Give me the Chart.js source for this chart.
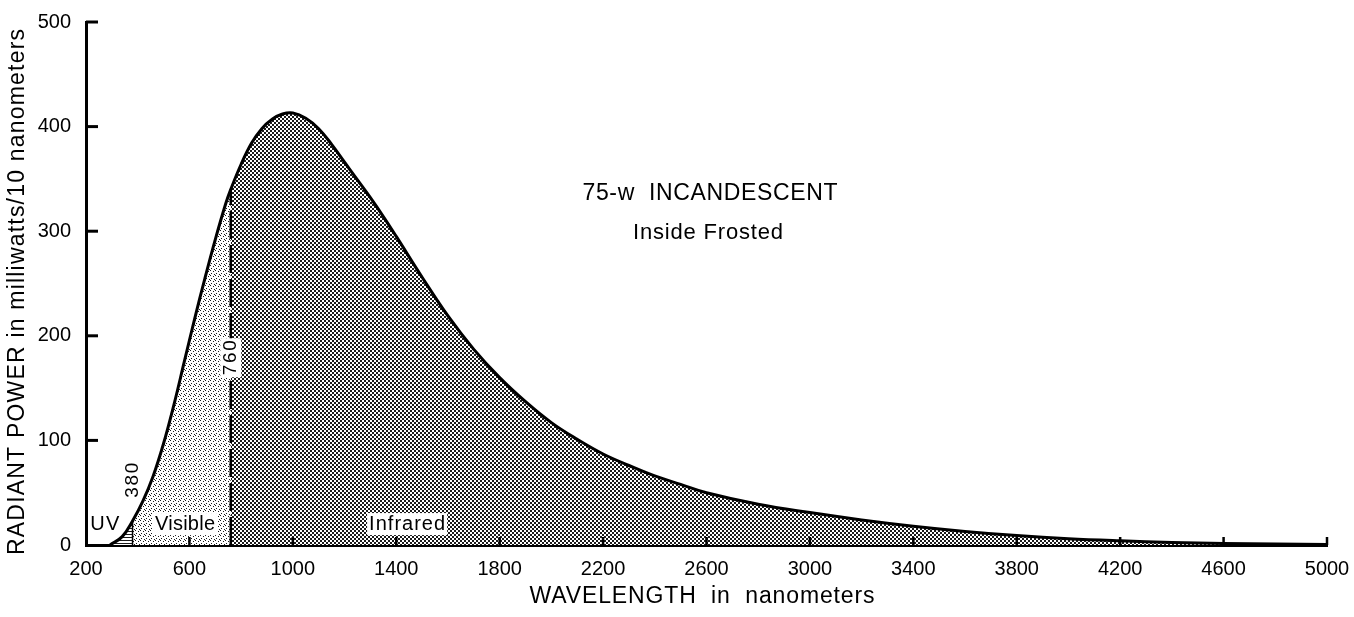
<!DOCTYPE html>
<html>
<head>
<meta charset="utf-8">
<script src="https://cdn.jsdelivr.net/npm/chart.js@4.4.1/dist/chart.umd.min.js"></script>
<style>
  html, body { margin: 0; padding: 0; background: #fff; }
  #wrap { width: 1354px; height: 617px; }
</style>
</head>
<body>
<div id="wrap"><canvas id="chart" width="1354" height="617"></canvas></div>
<script>
// wavelength (nm) and radiant power (mW / 10 nm)
const wavelengths = [293, 340, 380, 420, 460, 500, 540, 580, 620, 660, 700, 740, 760,
  800, 840, 880, 920, 960, 1000, 1050, 1100, 1150, 1200, 1250, 1300, 1350, 1400,
  1500, 1600, 1700, 1800, 1900, 2000, 2100, 2200, 2300, 2400, 2500, 2600,
  2800, 3000, 3200, 3400, 3600, 3800, 4000, 4200, 4400, 4600, 4800, 5000];
const power = [0, 8, 23, 42, 66, 97, 134, 175, 216, 255, 292, 326, 340,
  364, 384, 398, 407, 412, 413, 408, 398, 383, 366, 349, 332, 314, 295,
  256, 219, 187, 160, 137, 117, 101, 87, 76, 66, 58, 50,
  39, 31, 24, 18, 13, 9, 6, 4, 2.5, 1.5, 1, 0.5];

const xTickValues = [200, 600, 1000, 1400, 1800, 2200, 2600, 3000, 3400, 3800, 4200, 4600, 5000];
const yTickValues = [0, 100, 200, 300, 400, 500];

const UV_EDGE = 380;
const IR_EDGE = 760;

const FONT = "'Liberation Sans', Arial, sans-serif";

const points = wavelengths.map((w, i) => ({ x: w, y: power[i] }));
const between = (a, b) => points.filter(p => p.x >= a && p.x <= b);
const powerAt = w => power[wavelengths.indexOf(w)];

// fill textures
function makePattern(w, h, draw) {
  const c = document.createElement('canvas');
  c.width = w; c.height = h;
  const g = c.getContext('2d');
  g.fillStyle = '#fff';
  g.fillRect(0, 0, w, h);
  g.fillStyle = '#1a1a1a';
  draw(g);
  return g.createPattern(c, 'repeat');
}
const uvFill = makePattern(1, 3, g => g.fillRect(0, 0, 1, 1));
const visFill = makePattern(5, 5, g => {
  g.fillRect(0, 0, 1, 1); g.fillRect(3, 1, 1, 1);
  g.fillRect(1, 3, 1, 1); g.fillRect(4, 4, 1, 1);
});
const irFill = makePattern(4, 4, g => {
  g.fillRect(0, 0, 2, 2); g.fillRect(2, 2, 2, 2);
});

function fitText(ctx, text, cx, cy, size, width) {
  ctx.font = size + 'px ' + FONT;
  ctx.letterSpacing = '0px';
  const w0 = ctx.measureText(text).width;
  const ls = (width - w0) / Math.max(text.length - 1, 1);
  ctx.letterSpacing = ls + 'px';
  ctx.textAlign = 'left';
  ctx.textBaseline = 'middle';
  ctx.fillText(text, cx - width / 2, cy);
  ctx.letterSpacing = '0px';
}

function boxedText(ctx, text, cx, cy, size, width) {
  ctx.fillStyle = '#fff';
  ctx.fillRect(cx - width / 2 - 2, cy - size * 0.55, width + 4, size * 1.1);
  ctx.fillStyle = '#000';
  fitText(ctx, text, cx, cy, size, width);
}

const decor = {
  id: 'decor',
  afterDraw(chart) {
    const { ctx, chartArea: a, scales: { x, y } } = chart;
    ctx.save();
    ctx.strokeStyle = '#000';
    // inward tick marks
    ctx.lineWidth = 3;
    yTickValues.slice(1).forEach(v => {
      const py = y.getPixelForValue(v);
      ctx.beginPath(); ctx.moveTo(a.left, py); ctx.lineTo(a.left + 12, py); ctx.stroke();
    });
    ctx.lineWidth = 2.5;
    xTickValues.slice(1).forEach(v => {
      const px = x.getPixelForValue(v);
      ctx.beginPath(); ctx.moveTo(px, a.bottom); ctx.lineTo(px, a.bottom - 8); ctx.stroke();
    });

    // region labels
    ctx.fillStyle = '#000';
    fitText(ctx, 'UV', x.getPixelForValue(273), y.getPixelForValue(20), 20, 29);
    boxedText(ctx, 'Visible', x.getPixelForValue(583), y.getPixelForValue(20), 20, 60);
    boxedText(ctx, 'Infrared', x.getPixelForValue(1442), y.getPixelForValue(20), 20, 76);

    // rotated boundary labels
    [[String(UV_EDGE), UV_EDGE, 62, false], [String(IR_EDGE), IR_EDGE, 179, true]].forEach(([t, w, v, box]) => {
      ctx.save();
      ctx.translate(x.getPixelForValue(w), y.getPixelForValue(v));
      ctx.rotate(-Math.PI / 2);
      if (box) boxedText(ctx, t, 0, 0, 19, 35);
      else { ctx.fillStyle = '#000'; fitText(ctx, t, 0, 0, 19, 35); }
      ctx.restore();
    });

    // chart title
    ctx.fillStyle = '#000';
    fitText(ctx, '75-w  INCANDESCENT', 710, 194, 23, 255);
    fitText(ctx, 'Inside Frosted', 708, 233, 22, 150);

    // axis titles
    fitText(ctx, 'WAVELENGTH  in  nanometers', 702, 597, 23, 345);
    ctx.save();
    ctx.translate(18, 292);
    ctx.rotate(-Math.PI / 2);
    fitText(ctx, 'RADIANT POWER in milliwatts/10 nanometers', 0, 0, 23, 526);
    ctx.restore();
    ctx.restore();
  }
};

const areaSet = (data, fill) => ({
  data, backgroundColor: fill, borderWidth: 0, fill: 'origin',
  pointRadius: 0, tension: 0.4, order: 3
});

new Chart(document.getElementById('chart'), {
  type: 'line',
  data: {
    datasets: [
      areaSet(between(wavelengths[0], UV_EDGE), uvFill),
      areaSet(between(UV_EDGE, IR_EDGE), visFill),
      areaSet(between(IR_EDGE, 5000), irFill),
      {
        data: points, borderColor: '#000', borderWidth: 3, fill: false,
        pointRadius: 0, tension: 0.4, order: 1
      },
      {
        data: [{ x: UV_EDGE, y: 0 }, { x: UV_EDGE, y: powerAt(UV_EDGE) }],
        borderColor: '#000', borderWidth: 1.5, pointRadius: 0, fill: false, order: 2
      },
      {
        data: [{ x: IR_EDGE, y: 0 }, { x: IR_EDGE, y: powerAt(IR_EDGE) }],
        borderColor: '#000', borderWidth: 2.5, borderDash: [28, 6], pointRadius: 0, fill: false, order: 2
      }
    ]
  },
  options: {
    responsive: false,
    devicePixelRatio: 1,
    animation: false,
    layout: { padding: { top: 22, right: 27, left: 0, bottom: 0 } },
    plugins: { legend: { display: false }, tooltip: { enabled: false } },
    scales: {
      x: {
        type: 'linear', min: 200, max: 5000, z: 1,
        afterBuildTicks: s => { s.ticks = xTickValues.map(v => ({ value: v })); },
        afterFit: s => { s.height = 72; },
        grid: { display: false },
        border: { display: true, color: '#000', width: 3 },
        ticks: {
          color: '#000', font: { family: FONT, size: 20 }, padding: 4,
          maxRotation: 0, autoSkip: false, callback: v => String(v)
        }
      },
      y: {
        min: 0, max: 500, z: 1,
        afterBuildTicks: s => { s.ticks = yTickValues.map(v => ({ value: v })); },
        afterFit: s => { s.width = 86; },
        grid: { display: false },
        border: { display: true, color: '#000', width: 3 },
        ticks: { color: '#000', font: { family: FONT, size: 20 }, padding: 7, callback: v => String(v) }
      }
    }
  },
  plugins: [decor]
});
</script>
</body>
</html>
